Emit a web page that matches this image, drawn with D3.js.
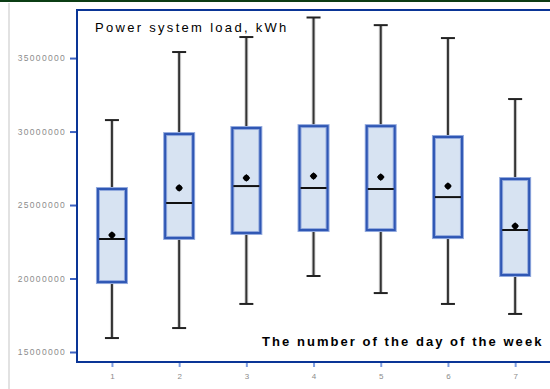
<!DOCTYPE html>
<html>
<head>
<meta charset="utf-8">
<script src="https://cdn.jsdelivr.net/npm/d3@7"></script>
<style>
  body { margin: 0; background: #fff; }
  svg { display: block; font-family: "Liberation Sans", Arial, sans-serif; }
</style>
</head>
<body>
<svg id="chart" width="550" height="389"></svg>
<script>
// ----------------------------
// DATA (values in kWh)
// ----------------------------
const days = [1, 2, 3, 4, 5, 6, 7];
const whiskerLow  = [15950000, 16630000, 18270000, 20170000, 19010000, 18270000, 17590000];
const q1          = [19760000, 22760000, 23100000, 23300000, 23300000, 22820000, 20240000];
const median      = [22690000, 25140000, 26290000, 26160000, 26090000, 25540000, 23300000];
const mean        = [22960000, 26160000, 26840000, 26970000, 26900000, 26290000, 23570000];
const q3          = [26090000, 29830000, 30240000, 30370000, 30370000, 29630000, 26770000];
const whiskerHigh = [30780000, 35410000, 36430000, 37760000, 37240000, 36360000, 32210000];
const yTicks = [15000000, 20000000, 25000000, 30000000, 35000000];

const boxes = days.map((d, i) => ({
  day: d, lo: whiskerLow[i], q1: q1[i], med: median[i], mean: mean[i], q3: q3[i], hi: whiskerHigh[i]
}));

const svg = d3.select("#chart");
const frame = { left: 77, top: 10, bottom: 362, right: 560 };

const x = d3.scaleLinear().domain([0.48, 7.6]).range([frame.left, frame.left + 7.12 * 67.2]);
const y = d3.scaleLinear().domain([14320000, 38270000]).range([frame.bottom, frame.top]);

// page decorations
svg.append("line")
  .attr("x1", 0).attr("x2", 550).attr("y1", 1).attr("y2", 1)
  .attr("stroke", "#0b3d14").attr("stroke-width", 2);
svg.append("line")
  .attr("x1", 9).attr("x2", 9).attr("y1", 3).attr("y2", 389)
  .attr("stroke", "#e2e2e2").attr("stroke-width", 2);

// plot frame
svg.append("rect")
  .attr("x", frame.left).attr("y", frame.top)
  .attr("width", frame.right - frame.left).attr("height", frame.bottom - frame.top)
  .attr("fill", "#fff").attr("stroke", "#0a3596").attr("stroke-width", 2);

// ----------------------------
// AXES
// ----------------------------
const yAxis = svg.append("g")
  .attr("transform", `translate(${frame.left - 1},0)`)
  .call(d3.axisLeft(y).tickValues(yTicks).tickSize(6).tickPadding(4).tickFormat(d3.format("d")));
yAxis.select(".domain").remove();
yAxis.selectAll(".tick line").attr("stroke", "#3d62c0").attr("stroke-width", 2);
yAxis.selectAll(".tick text").attr("fill", "#8c8c8c")
  .style("font-size", "8.5px").style("letter-spacing", "1.3px");

const xAxis = svg.append("g")
  .attr("transform", `translate(0,${frame.bottom + 1})`)
  .call(d3.axisBottom(x).tickValues(days).tickSize(4).tickPadding(6).tickFormat(d3.format("d")));
xAxis.select(".domain").remove();
xAxis.selectAll(".tick line").attr("stroke", "#7f9ee0").attr("stroke-width", 2);
xAxis.selectAll(".tick text").attr("fill", "#8c8c8c").style("font-size", "8px");

// ----------------------------
// BOXES
// ----------------------------
const boxW = 28, capW = 14;
const g = svg.append("g");

const b = g.selectAll("g.box").data(boxes).join("g").attr("class", "box");

b.append("line")
  .attr("x1", d => x(d.day)).attr("x2", d => x(d.day))
  .attr("y1", d => y(d.hi)).attr("y2", d => y(d.lo))
  .attr("stroke", "#d8d8d8").attr("stroke-width", 4);
b.append("line")
  .attr("x1", d => x(d.day)).attr("x2", d => x(d.day))
  .attr("y1", d => y(d.hi)).attr("y2", d => y(d.lo))
  .attr("stroke", "#333").attr("stroke-width", 2);
b.selectAll("line.cap").data(d => [{ day: d.day, v: d.hi }, { day: d.day, v: d.lo }])
  .join("line").attr("class", "cap")
  .attr("x1", d => x(d.day) - capW / 2).attr("x2", d => x(d.day) + capW / 2)
  .attr("y1", d => y(d.v)).attr("y2", d => y(d.v))
  .attr("stroke", "#222").attr("stroke-width", 2);

b.append("rect")
  .attr("x", d => x(d.day) - boxW / 2).attr("width", boxW)
  .attr("y", d => y(d.q3)).attr("height", d => y(d.q1) - y(d.q3))
  .attr("fill", "#d7e3f2").attr("stroke", "#93aade").attr("stroke-width", 4);
b.append("rect")
  .attr("x", d => x(d.day) - boxW / 2).attr("width", boxW)
  .attr("y", d => y(d.q3)).attr("height", d => y(d.q1) - y(d.q3))
  .attr("fill", "none").attr("stroke", "#2f57b4").attr("stroke-width", 2);

b.append("line")
  .attr("x1", d => x(d.day) - boxW / 2 + 1).attr("x2", d => x(d.day) + boxW / 2 - 1)
  .attr("y1", d => y(d.med)).attr("y2", d => y(d.med))
  .attr("stroke", "#111").attr("stroke-width", 2);

b.append("path")
  .attr("transform", d => `translate(${x(d.day)},${y(d.mean)}) rotate(45)`)
  .attr("d", d3.symbol(d3.symbolSquare, 30))
  .attr("fill", "#000");
b.append("path")
  .attr("transform", d => `translate(${x(d.day)},${y(d.mean)})`)
  .attr("d", d3.symbol(d3.symbolCircle, 26))
  .attr("fill", "#000");

// ----------------------------
// LABELS
// ----------------------------
svg.append("text")
  .attr("x", 95).attr("y", 32)
  .style("font-size", "13px").style("letter-spacing", "2.3px")
  .attr("fill", "#000")
  .text("Power system load, kWh");

svg.append("text")
  .attr("x", 262).attr("y", 346)
  .style("font-size", "13px").style("font-weight", "bold").style("letter-spacing", "2.05px")
  .attr("fill", "#000")
  .text("The number of the day of the week");
</script>
</body>
</html>
